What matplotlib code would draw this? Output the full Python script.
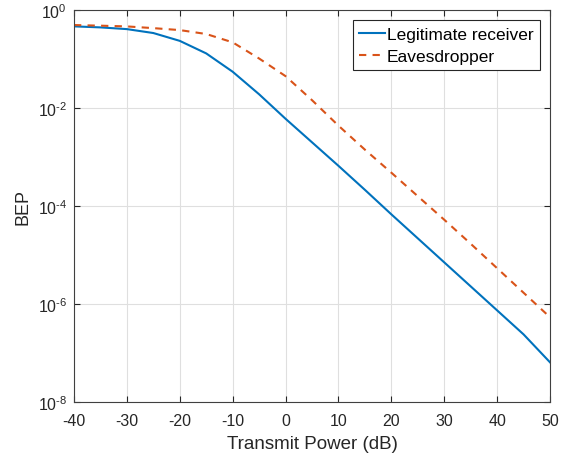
import numpy as np
import matplotlib.pyplot as plt

# Transmit power (dB) and BEP (log10 values)
power_db = [-40, -35, -30, -25, -20, -15, -10, -5, 0, 5, 10, 15, 20, 25, 30, 35, 40, 45, 50]
log_bep_legit = [-0.334, -0.355, -0.39, -0.47, -0.63, -0.886, -1.26, -1.72, -2.22, -2.7,
                 -3.18, -3.67, -4.17, -4.66, -5.15, -5.64, -6.13, -6.62, -7.19]
log_bep_eve = [-0.307, -0.32, -0.335, -0.37, -0.41, -0.49, -0.66, -0.99, -1.35, -1.84,
               -2.36, -2.85, -3.32, -3.8, -4.28, -4.77, -5.27, -5.77, -6.27]

labels = ['Legitimate receiver', 'Eavesdropper']
ytick_exp = [-8, -6, -4, -2, 0]

plt.rcParams['font.family'] = ['Liberation Sans', 'DejaVu Sans']
plt.rcParams['mathtext.fontset'] = 'custom'
plt.rcParams['mathtext.rm'] = 'Liberation Sans'
plt.rcParams['mathtext.it'] = 'Liberation Sans'
plt.rcParams['axes.unicode_minus'] = False

fig = plt.figure(figsize=(5.68, 4.6), dpi=100)
ax = fig.add_axes([74 / 568, 1 - 403 / 460, 476 / 568, 392 / 460])

ax.semilogy(power_db, 10 ** np.array(log_bep_legit), color='#0072BD', lw=1.5, label=labels[0])
ax.semilogy(power_db, 10 ** np.array(log_bep_eve), color='#D95319', lw=1.5,
            ls=(0, (3.5, 3)), label=labels[1])

ax.set_xlim(-40, 50)
ax.set_ylim(1e-8, 1e0)
ax.set_xticks(range(-40, 51, 10))
ax.set_yticks([10.0 ** e for e in ytick_exp])
# hyphen instead of a math minus, like the reference
ax.set_yticklabels([r'$10^{\text{%d}}$' % e for e in ytick_exp])
ax.minorticks_off()

ax.grid(True, color='#dfdfdf', lw=0.8)
ax.set_axisbelow(True)
for s in ax.spines.values():
    s.set_color('#404040')
    s.set_linewidth(0.8)
ax.tick_params(direction='in', top=True, right=True, labelsize=11.5,
               colors='#262626', length=4)
ax.tick_params(axis='x', pad=8)
ax.tick_params(axis='y', pad=5)

ax.set_xlabel('Transmit Power (dB)', fontsize=13.5, color='#262626', labelpad=5)
ax.set_ylabel('BEP', fontsize=13, color='#262626', labelpad=4)

leg = ax.legend(loc='upper right', fontsize=12.5, fancybox=False, framealpha=1,
                edgecolor='#262626', borderpad=0.35, handlelength=1.5,
                handletextpad=0.1, labelspacing=0.43, borderaxespad=0.6)
leg.get_frame().set_linewidth(0.8)

fig.savefig('out.png', dpi=100)
